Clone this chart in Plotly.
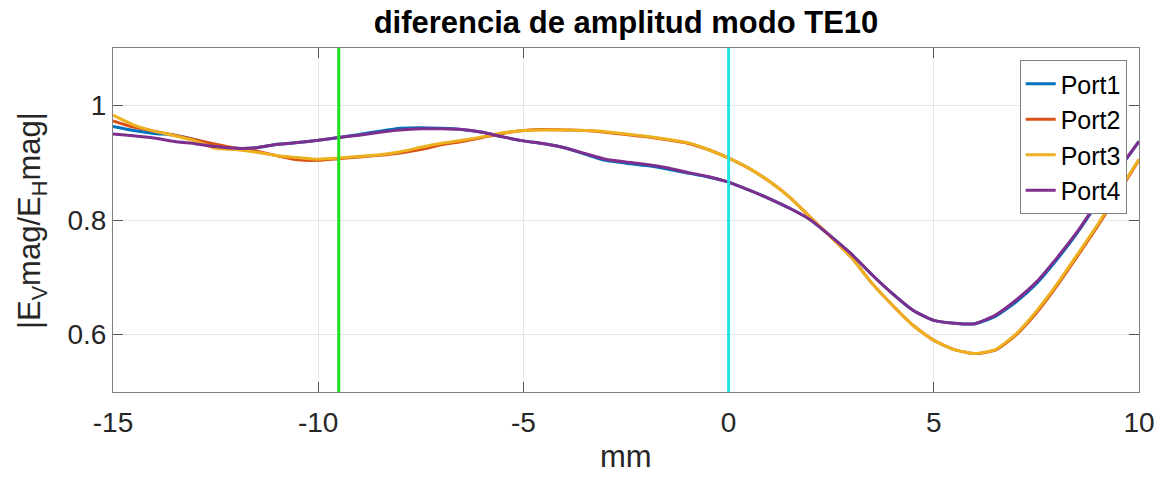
import plotly.graph_objects as go

# Position along the guide (mm)
x_mm = [-15.0, -14.5, -14.0, -13.5, -13.0, -12.5, -12.0, -11.5, -11.0, -10.5,
        -10.0, -9.5, -9.0, -8.5, -8.0, -7.5, -7.0, -6.5, -6.0, -5.5,
        -5.0, -4.5, -4.0, -3.5, -3.0, -2.5, -2.0, -1.5, -1.0, -0.5,
        0.0, 0.5, 1.0, 1.5, 2.0, 2.5, 3.0, 3.5, 4.0, 4.5,
        5.0, 5.5, 6.0, 6.5, 7.0, 7.5, 8.0, 8.5, 9.0, 9.5, 10.0]

# |Ev mag / Eh mag| for each port
port1 = [0.963, 0.956, 0.951, 0.948, 0.940, 0.929, 0.925, 0.926, 0.932, 0.935,
         0.939, 0.944, 0.949, 0.955, 0.960, 0.961, 0.960, 0.958, 0.953, 0.945,
         0.938, 0.933, 0.926, 0.915, 0.904, 0.899, 0.895, 0.889, 0.882, 0.875,
         0.866, 0.852, 0.837, 0.820, 0.800, 0.771, 0.740, 0.704, 0.671, 0.642,
         0.625, 0.620, 0.619, 0.632, 0.657, 0.689, 0.731, 0.778, 0.831, 0.887, 0.937]
port2 = [0.973, 0.962, 0.955, 0.948, 0.940, 0.932, 0.925, 0.920, 0.912, 0.905,
         0.904, 0.907, 0.910, 0.913, 0.917, 0.923, 0.931, 0.937, 0.944, 0.951,
         0.956, 0.958, 0.957, 0.956, 0.953, 0.949, 0.945, 0.940, 0.934, 0.923,
         0.908, 0.890, 0.867, 0.839, 0.804, 0.770, 0.734, 0.689, 0.651, 0.616,
         0.590, 0.574, 0.567, 0.573, 0.599, 0.638, 0.685, 0.737, 0.790, 0.847, 0.905]
port3 = [0.983, 0.966, 0.955, 0.947, 0.938, 0.925, 0.923, 0.918, 0.912, 0.909,
         0.906, 0.908, 0.911, 0.914, 0.919, 0.927, 0.934, 0.939, 0.945, 0.952,
         0.956, 0.957, 0.957, 0.956, 0.954, 0.950, 0.946, 0.941, 0.935, 0.923,
         0.908, 0.890, 0.867, 0.839, 0.804, 0.770, 0.734, 0.689, 0.651, 0.616,
         0.590, 0.574, 0.567, 0.574, 0.601, 0.641, 0.688, 0.740, 0.793, 0.850, 0.906]
port4 = [0.950, 0.947, 0.943, 0.937, 0.933, 0.928, 0.925, 0.926, 0.932, 0.935,
         0.939, 0.944, 0.948, 0.953, 0.957, 0.959, 0.959, 0.958, 0.953, 0.945,
         0.938, 0.933, 0.926, 0.916, 0.906, 0.901, 0.897, 0.891, 0.883, 0.876,
         0.866, 0.852, 0.837, 0.820, 0.800, 0.771, 0.740, 0.704, 0.671, 0.642,
         0.625, 0.620, 0.619, 0.634, 0.660, 0.692, 0.734, 0.780, 0.833, 0.888, 0.937]

series_names = ["Port1", "Port2", "Port3", "Port4"]
series_colors = ["#0072BD", "#D95319", "#EDB120", "#7E2F8E"]

# Reference positions marked with vertical lines
marker_x = [-9.5, 0.0]
marker_colors = ["#1EE11E", "#22E3E3"]

y_range = [0.5, 1.1]
x_ticks = [-15, -10, -5, 0, 5, 10]
x_tick_text = ["-15", "-10", "-5", "0", "5", "10"]
y_ticks = [0.6, 0.8, 1.0]
y_tick_text = ["0.6", "0.8", "1"]

x_title = "mm"
y_title = "|E<sub>V</sub>mag/E<sub>H</sub>mag|"

FONT = "Liberation Sans, Arial, sans-serif"

fig = go.Figure()
for name, ys, col in zip(series_names, [port1, port2, port3, port4], series_colors):
    fig.add_trace(go.Scatter(
        x=x_mm, y=ys, name=name, mode="lines",
        line=dict(color=col, width=3, shape="spline", smoothing=0.5),
    ))

for xv, col in zip(marker_x, marker_colors):
    fig.add_trace(go.Scatter(
        x=[xv, xv], y=y_range, mode="lines", showlegend=False,
        line=dict(color=col, width=3), hoverinfo="skip",
    ))

axis_common = dict(
    showline=True, linecolor="#808080", linewidth=1, mirror="ticks",
    ticks="inside", ticklen=10, tickcolor="#555555", tickwidth=1,
    showgrid=True, gridcolor="#E6E6E6", gridwidth=1, zeroline=False,
    automargin=False, layer="below traces",
)

fig.update_layout(
    width=1163, height=477,
    margin=dict(l=113, r=24, t=48, b=85),
    paper_bgcolor="white", plot_bgcolor="white",
    title=dict(
        text="<b>diferencia de amplitud modo TE10</b>",
        x=(113 + 1139) / 2 / 1163, xanchor="center",
        y=1 - 22 / 477, yanchor="middle",
        font=dict(family=FONT, size=31, color="#000000"),
    ),
    xaxis=dict(
        range=[-15, 10], tickvals=x_ticks, ticktext=x_tick_text,
        tickfont=dict(family=FONT, size=28, color="#262626"),
        ticklabelstandoff=5,
        **axis_common,
    ),
    yaxis=dict(
        range=y_range, tickvals=y_ticks, ticktext=y_tick_text,
        tickfont=dict(family=FONT, size=28, color="#262626"),
        **axis_common,
    ),
    legend=dict(
        x=0.988, y=0.965, xanchor="right", yanchor="top",
        bgcolor="white", bordercolor="#808080", borderwidth=1,
        font=dict(family=FONT, size=25, color="#000000"),
        itemwidth=30, tracegroupgap=0,
    ),
    showlegend=True,
    annotations=[
        dict(text=x_title, xref="paper", yref="paper", x=0.5, y=-0.243,
             xanchor="center", yanchor="bottom", showarrow=False,
             font=dict(family=FONT, size=31, color="#262626")),
        dict(text=y_title, xref="paper", yref="paper", x=-0.0789, y=0.497,
             xanchor="center", yanchor="middle", showarrow=False, textangle=-90,
             font=dict(family=FONT, size=31, color="#262626")),
    ],
)

fig.write_html("out.html")
